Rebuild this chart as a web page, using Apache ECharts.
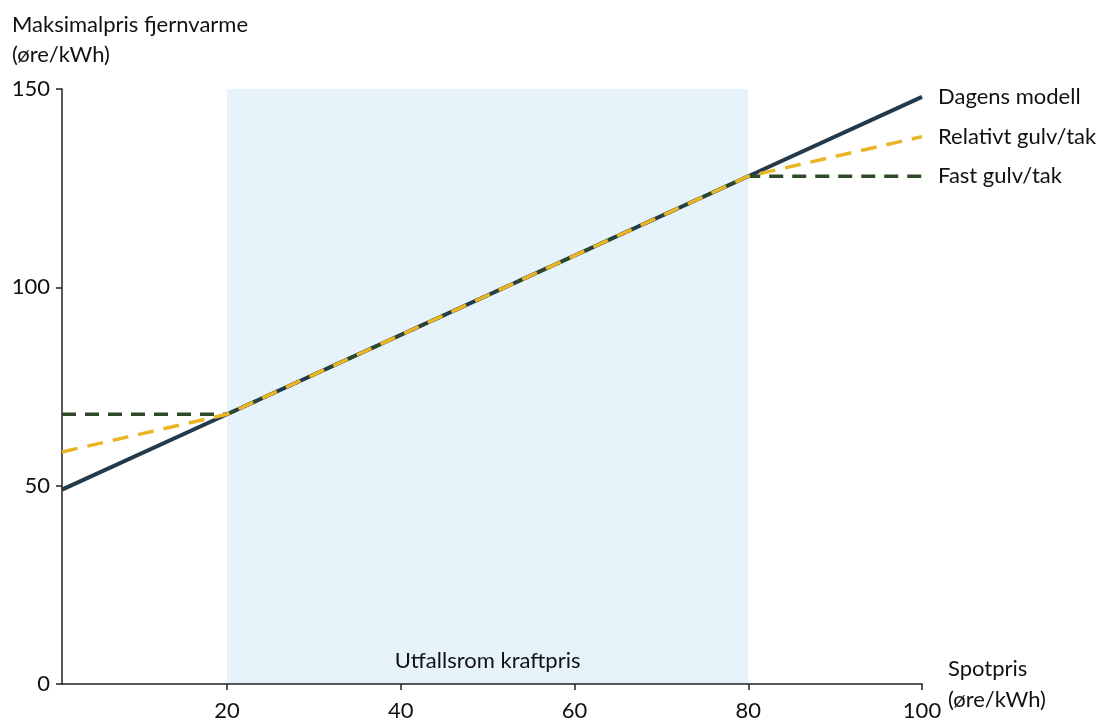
<!DOCTYPE html>
<html>
<head>
<meta charset="utf-8">
<script src="https://cdn.jsdelivr.net/npm/echarts@6/dist/echarts.min.js"></script>
<style>html,body{margin:0;padding:0;background:#fff}#c{width:1101px;height:722px}</style>
</head>
<body>
<div id="c"></div>
<script>
// Data
const xValues = [1, 20, 80, 100];
const dagensModell = [49, 68, 128, 148];
const relativtGulvTak = [58.5, 68, 128, 138];
const fastGulvTak = [68, 68, 128, 128];
const seriesNames = ['Dagens modell', 'Relativt gulv/tak', 'Fast gulv/tak'];
const xTicks = [20, 40, 60, 80, 100];
const rangeStart = 20, rangeEnd = 80;
const rangeLabel = 'Utfallsrom kraftpris';
const yName = ['Maksimalpris fjernvarme', '(øre/kWh)'];
const xName = ['Spotpris', '(øre/kWh)'];

const FONT = 'Lato';
const FS = 22;
const pair = arr => xValues.map((x, i) => [x, arr[i]]);

const chart = echarts.init(document.getElementById('c'), null, {renderer: 'canvas'});
const endLbl = {
  show: true, formatter: p => p.seriesName, color: '#111', fontSize: FS,
  fontFamily: FONT, distance: 16
};
chart.setOption({
  animation: false,
  textStyle: {fontFamily: FONT},
  grid: {left: 62, right: 179, top: 89, bottom: 38},
  xAxis: {
    type: 'value', min: 1, max: 100,
    axisLine: {show: true, lineStyle: {color: '#222', width: 1.5}},
    axisTick: {show: true, customValues: xTicks, length: 6, lineStyle: {color: '#222', width: 1.5}},
    axisLabel: {customValues: xTicks, color: '#111', fontSize: FS, margin: 16, fontFamily: FONT},
    splitLine: {show: false}
  },
  yAxis: {
    type: 'value', min: 0, max: 150, interval: 50,
    axisLine: {show: true, lineStyle: {color: '#222', width: 1.5}},
    axisTick: {show: true, length: 6, lineStyle: {color: '#222', width: 1.5}},
    axisLabel: {color: '#111', fontSize: FS, margin: 12, fontFamily: FONT},
    splitLine: {show: false}
  },
  graphic: [
    {type: 'text', left: 12, top: 10, style: {text: yName.join('\n'), fontSize: FS, lineHeight: 30, fill: '#111', fontFamily: FONT}},
    {type: 'text', left: 948, top: 653, style: {text: xName.join('\n'), fontSize: FS, lineHeight: 31, fill: '#111', fontFamily: FONT}}
  ],
  series: [
    {
      name: seriesNames[0], type: 'line', data: pair(dagensModell), symbol: 'none', z: 3,
      lineStyle: {color: '#233a4c', width: 4},
      endLabel: endLbl,
      markArea: {
        silent: true, z: 0,
        itemStyle: {color: '#e7f3fb'},
        label: {show: true, position: 'insideBottom', distance: 12, color: '#111', fontSize: FS, fontFamily: FONT},
        data: [[{name: rangeLabel, xAxis: rangeStart, yAxis: 0}, {xAxis: rangeEnd, yAxis: 150}]]
      }
    },
    {
      name: seriesNames[2], type: 'line', data: pair(fastGulvTak), symbol: 'none', z: 4,
      lineStyle: {color: '#2f4a28', width: 3.5, type: [14, 9]},
      endLabel: endLbl
    },
    {
      name: seriesNames[1], type: 'line', data: pair(relativtGulvTak), symbol: 'none', z: 5,
      lineStyle: {color: '#e9b526', width: 3.5, type: [16, 10]},
      endLabel: endLbl
    }
  ]
});
</script>
</body>
</html>
